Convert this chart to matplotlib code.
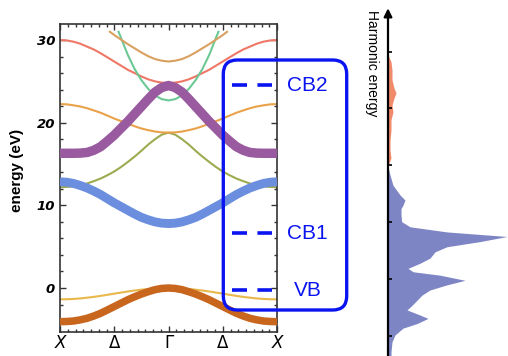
import numpy as np
import matplotlib.pyplot as plt
from matplotlib.patches import FancyBboxPatch
from matplotlib.ticker import MultipleLocator

plt.rcParams['lines.scale_dashes'] = False

# wave vector from Gamma (0) to X (1), the X-Gamma-X path is symmetric
k_half = [0, 0.0625, 0.125, 0.1875, 0.25, 0.3125, 0.375, 0.4375, 0.5,
          0.5625, 0.625, 0.6875, 0.75, 0.8125, 0.875, 0.9375, 1]

# band energies (eV) read along Gamma -> X
band_vb = [0, -0.05, -0.2, -0.45, -0.73, -1.06, -1.42, -1.83, -2.24,
           -2.65, -3.05, -3.38, -3.66, -3.85, -3.99, -4.05, -4.07]
band_vb2 = [0, -0.01, -0.05, -0.12, -0.2, -0.3, -0.42, -0.55, -0.68,
            -0.82, -0.95, -1.07, -1.17, -1.26, -1.32, -1.36, -1.37]
band_cb1 = [7.8, 7.85, 8.0, 8.25, 8.55, 8.95, 9.4, 9.85, 10.3,
            10.8, 11.3, 11.72, 12.1, 12.4, 12.65, 12.8, 12.85]
band_olive = [18.8, 18.55, 18.0, 17.35, 16.6, 15.9, 15.25, 14.64, 14.1,
              13.65, 13.25, 12.93, 12.65, 12.46, 12.3, 12.23, 12.2]
band_orange = [18.8, 18.83, 18.93, 19.1, 19.3, 19.57, 19.87, 20.19, 20.5,
               20.86, 21.2, 21.48, 21.75, 21.96, 22.1, 22.22, 22.25]
band_cb2 = [24.5, 24.25, 23.7, 22.85, 21.95, 21.05, 20.15, 19.33, 18.5,
            17.78, 17.1, 16.67, 16.4, 16.32, 16.3, 16.3, 16.3]
band_red = [24.8, 24.85, 25.0, 25.25, 25.6, 26.0, 26.4, 26.9, 27.4,
            27.9, 28.4, 28.85, 29.2, 29.55, 29.8, 29.95, 30.0]

# the two steep bands leave the plot at the top
k_green = [0, 0.0625, 0.125, 0.1875, 0.25, 0.3125, 0.375, 0.46]
band_green = [22.7, 22.85, 23.3, 24.1, 25.15, 26.5, 28.2, 31.0]
k_top = [0, 0.0625, 0.125, 0.1875, 0.25, 0.3125, 0.375, 0.5, 0.54]
band_top = [27.4, 27.5, 27.7, 28.05, 28.5, 29.0, 29.5, 30.6, 31.0]

# marked levels in the blue box
level_names = ['CB2', 'CB1', 'VB']
level_energy = [24.56, 6.6, -0.24]

# harmonic spectrum (position on harmonic axis, intensity)
harm_blue_h = [2.97, 2.83, 2.65, 2.48, 2.39, 2.30, 2.24, 2.13, 2.01, 1.92, 1.83, 1.75, 1.66,
               1.57, 1.48, 1.37, 1.28, 1.19, 1.13, 1.07, 0.98, 0.90, 0.81, 0.72, 0.63,
               0.54, 0.46, 0.37, 0.31, 0.22, 0.14, 0.02, -0.10, -0.28, -0.35]
harm_blue_i = [0, 2, 5, 12, 17, 15, 13, 13, 13.7, 22, 59, 119, 92,
               59, 47, 42, 32, 20, 25, 52, 77, 59, 42, 34, 29,
               24, 19, 32, 40, 29, 15, 7, 4, 3, 3]
harm_red_h = [4.94, 4.82, 4.67, 4.50, 4.36, 4.27, 4.18, 4.06, 3.94, 3.80, 3.62, 3.44, 3.27, 3.13, 2.99]
harm_red_i = [0, 3, 4, 4, 6, 8, 6, 4, 5, 3, 3, 2, 2, 3, 0]


def mirror(k, e):
    k = np.array(k)
    e = np.array(e)
    return np.concatenate([-k[::-1], k[1:]]), np.concatenate([e[::-1], e[1:]])


W, H = 508, 356
fig = plt.figure(figsize=(W / 100, H / 100), dpi=100)

# ---- band structure
ax = fig.add_axes([60 / W, 1 - 332 / H, 217 / W, 308 / H])

thin = [(k_half, band_vb2, '#e8b84a'),
        (k_half, band_olive, '#9eaa50'),
        (k_half, band_orange, '#eaa24a'),
        (k_half, band_red, '#ee7766'),
        (k_green, band_green, '#6cc894'),
        (k_top, band_top, '#d9a060')]
for kk, ee, c in thin:
    x, y = mirror(kk, ee)
    ax.plot(x, y, color=c, lw=1.5, zorder=2)

thick = [(band_vb, '#c8661e', 5.4),
         (band_cb1, '#6b8fde', 6.4),
         (band_cb2, '#9a5aa0', 6.8)]
for ee, c, w in thick:
    x, y = mirror(k_half, ee)
    ax.plot(x, y, color=c, lw=w, solid_capstyle='butt', solid_joinstyle='round', zorder=3)

ax.set_xlim(-1, 1)
ax.set_ylim(-5.32, 31.94)
ax.set_xticks([-1, -0.5, 0, 0.5, 1])
ax.set_xticklabels(['X', 'Δ', 'Γ', 'Δ', 'X'], fontsize=12)
for i, lab in enumerate(ax.get_xticklabels()):
    if i in (0, 4):
        lab.set_fontstyle('italic')
ax.xaxis.set_minor_locator(MultipleLocator(1 / 14))
ax.set_yticks([0, 10, 20, 30])
ax.yaxis.set_minor_locator(MultipleLocator(2))
for lab in ax.get_yticklabels():
    lab.set_fontweight('bold')
    lab.set_fontstyle('italic')
    lab.set_fontsize(9.5)
ax.tick_params(which='both', direction='in', top=True, right=True, color='#333333')
ax.tick_params(which='major', length=4, width=1)
ax.tick_params(which='minor', length=2.5, width=1)
ax.tick_params(axis='x', pad=1.5)
for s in ax.spines.values():
    s.set_color('#333333')
    s.set_linewidth(1.2)

fig.text(17 / W, 1 - 170 / H, 'energy (eV)', rotation=90, ha='center', va='center',
         fontsize=11, fontweight='bold', family='Liberation Sans')

# level marks and labels
for name, e in zip(level_names, level_energy):
    ax.plot([0.582, 0.951], [e, e], color='#0a14f0', lw=2.6, dashes=(10.8, 7.5),
            solid_capstyle='butt', dash_capstyle='butt', clip_on=False, zorder=6)
    ax.text(1.28, e, name, color='#0a14f0', fontsize=15, family='Liberation Sans',
            ha='center', va='center', clip_on=False, zorder=6)

# rounded box drawn in pixel space
ov = fig.add_axes([0, 0, 1, 1], zorder=5)
ov.set_xlim(0, W)
ov.set_ylim(H, 0)
ov.axis('off')
ov.patch.set_visible(False)
ov.add_patch(FancyBboxPatch((223.3, 60), 123.4, 250, boxstyle='round,pad=0,rounding_size=14',
                            fill=False, ec='#0a14f0', lw=2.4))

# ---- harmonic spectrum
ax2 = fig.add_axes([388 / W, 0, 120 / W, 1])
ax2.fill_betweenx(harm_blue_h, 0, harm_blue_i, color='#7d85c4', lw=0)
ax2.fill_betweenx(harm_red_h, 0, harm_red_i, color='#f08a6a', lw=0)
ax2.set_xlim(0, 120)
ax2.set_ylim(-0.35, 5.905)
for s in ax2.spines.values():
    s.set_visible(False)
ax2.set_xticks([])
ax2.set_yticks([0, 1, 2, 3, 4, 5])
ax2.set_yticklabels([])
ax2.tick_params(axis='y', direction='in', length=3, width=1.2, color='black')
ax2.annotate('', xy=(0, 5.76), xytext=(0, -0.4),
             arrowprops=dict(arrowstyle='-|>', lw=1.6, color='black', mutation_scale=12,
                             shrinkA=0, shrinkB=0), annotation_clip=False)

fig.text(372 / W, 1 - 63 / H, 'Harmonic energy', rotation=-90, ha='center', va='center',
         fontsize=10, family='Liberation Sans')

fig.savefig('out.png', dpi=100)
